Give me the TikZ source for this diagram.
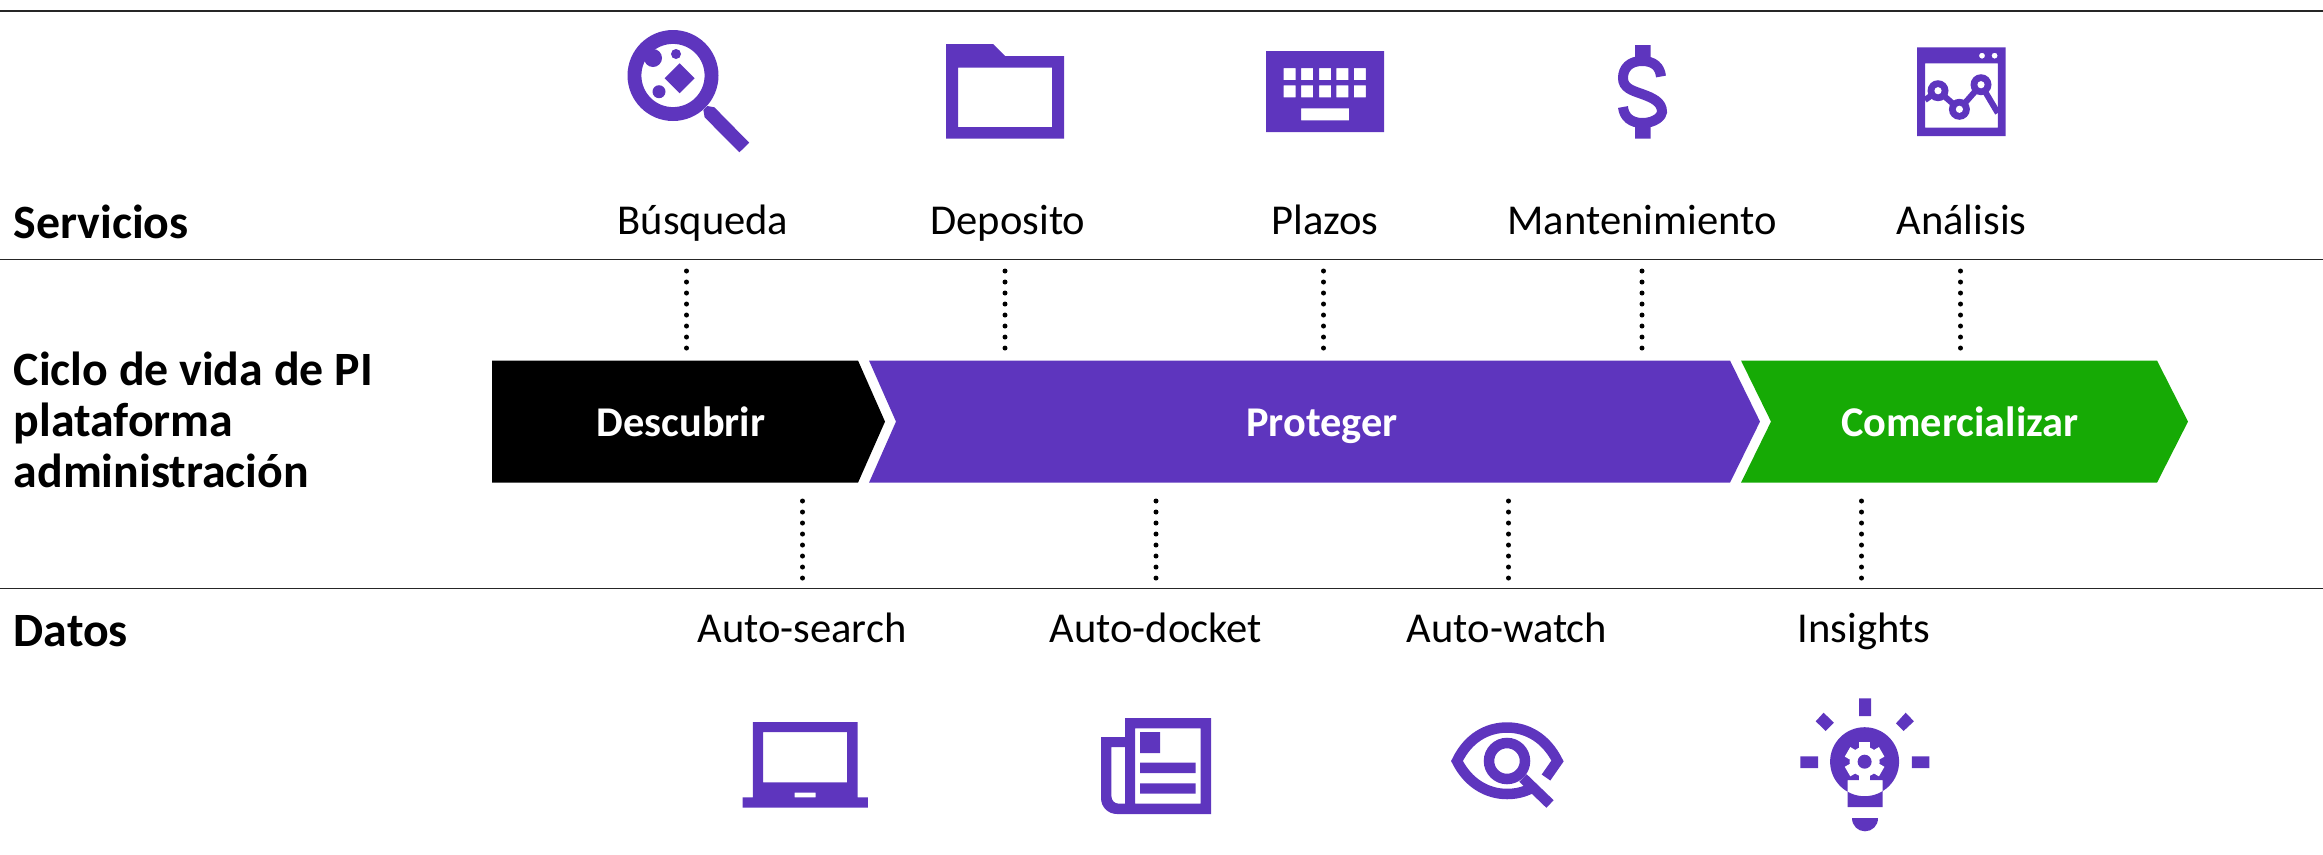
\documentclass[tikz,border=0pt]{standalone}
\usepackage{fontspec}
\setmainfont{Carlito}
\definecolor{morado}{RGB}{94,53,190}
\definecolor{verde}{RGB}{22,170,5}
\tikzset{
  regla/.style={line width=.018cm,black!85},
  puntos/.style={line width=.05cm,line cap=round,dash pattern=on 0pt off .11cm},
  titulo/.style={anchor=base west,inner sep=0,font=\fontsize{13.6}{14.5}\selectfont\bfseries,align=left},
  etiqueta/.style={anchor=base,inner sep=0,font=\fontsize{12.1}{14}\selectfont},
  fase/.style={anchor=base,text=white,inner sep=0,font=\fontsize{12.05}{14}\selectfont\bfseries},
  icono/.style={fill=morado,even odd rule},
  trazo/.style={draw=morado,line width=.105cm}
}
\begin{document}
\begin{tikzpicture}[x=.01cm,y=-.01cm]
    \useasboundingbox (0,0) rectangle (2323,854);
    % rules
    \draw[regla] (0,10.7) -- (2323,10.7);
    \draw[regla] (0,259.5) -- (2323,259.5);
    \draw[regla] (0,588.5) -- (2323,588.5);
    % row titles
    \node[titulo] (servicios) at (13,238.5) {Servicios};
    \node[titulo,anchor=west] (ciclo) at (13,420) {Ciclo de vida de PI\\plataforma\\administración};
    \node[titulo] (datos) at (13,646) {Datos};
    % chevrons
    \fill[black] (492,360.5) -- (858,360.5) -- (885,421.6) -- (858,482.7) -- (492,482.7) -- cycle;
    \fill[morado] (869,360.5) -- (1730,360.5) -- (1760,421.6) -- (1730,482.7) -- (869,482.7) -- (896,421.6) -- cycle;
    \fill[verde] (1741,360.5) -- (2157,360.5) -- (2188,421.6) -- (2157,482.7) -- (1741,482.7) -- (1771,421.6) -- cycle;
    \node[fase] (descubrir) at (681,436) {Descubrir};
    \node[fase] (proteger) at (1322,436) {Proteger};
    \node[fase] (comercializar) at (1960,436) {Comercializar};
    % labels
    \node[etiqueta] (busqueda) at (703,234) {Búsqueda};
    \node[etiqueta] (deposito) at (1008,234) {Deposito};
    \node[etiqueta] (plazos) at (1325,234) {Plazos};
    \node[etiqueta] (mantenimiento) at (1642,234) {Mantenimiento};
    \node[etiqueta] (analisis) at (1961.5,234) {Análisis};
    \node[etiqueta] (autosearch) at (802,642) {Auto-search};
    \node[etiqueta] (autodocket) at (1155.5,642) {Auto-docket};
    \node[etiqueta] (autowatch) at (1507,642) {Auto-watch};
    \node[etiqueta] (insights) at (1864,642) {Insights};
    % dotted connectors
    \coordinate (arriba) at (0,271);
    \coordinate (borde) at (0,352);
    \coordinate (bajo) at (0,501);
    \coordinate (fondo) at (0,581);
    \coordinate (s1) at (686.5,0);
    \coordinate (s2) at (1005,0);
    \coordinate (s3) at (1323.5,0);
    \coordinate (s4) at (1642,0);
    \coordinate (s5) at (1960.5,0);
    \coordinate (d1) at (802.5,0);
    \coordinate (d2) at (1156,0);
    \coordinate (d3) at (1508.5,0);
    \coordinate (d4) at (1861.5,0);
    \draw[puntos] (s1 |- arriba) -- (s1 |- borde);
    \draw[puntos] (s2 |- arriba) -- (s2 |- borde);
    \draw[puntos] (s3 |- arriba) -- (s3 |- borde);
    \draw[puntos] (s4 |- arriba) -- (s4 |- borde);
    \draw[puntos] (s5 |- arriba) -- (s5 |- borde);
    \draw[puntos] (d1 |- bajo) -- (d1 |- fondo);
    \draw[puntos] (d2 |- bajo) -- (d2 |- fondo);
    \draw[puntos] (d3 |- bajo) -- (d3 |- fondo);
    \draw[puntos] (d4 |- bajo) -- (d4 |- fondo);
    % magnifier
    \fill[icono] (673,75.5) circle (45.5) (673,75.5) circle (31.6);
    \fill[morado] (653,58) circle (9) (676,54) circle (5) (659,91.7) circle (6.5);
    \fill[morado] (679.6,63.3) -- (694.6,78.3) -- (679.6,93.3) -- (664.6,78.3) -- cycle;
    \fill[morado] (703.4,110) -- (707.3,106) -- (714.4,107.3) -- (749.2,142.7) -- (739.4,152.3) -- (704.6,117.3) -- cycle;
    % folder
    \fill[icono] (946,44) -- (993,44) -- (1005,56) -- (1064,56) -- (1064,138.7) -- (946,138.7) -- cycle
      (958,67.7) rectangle (1052,127);
    % keyboard
    \fill[icono] (1266,51) rectangle (1384,132)
      (1283.6,68) rectangle ++(12,12) (1301.2,68) rectangle ++(12,12) (1319,68) rectangle ++(12,12) (1336.3,68) rectangle ++(12,12) (1353.8,68) rectangle ++(12,12)
      (1283.6,85.3) rectangle ++(12,12) (1301.2,85.3) rectangle ++(12,12) (1319,85.3) rectangle ++(12,12) (1336.3,85.3) rectangle ++(12,12) (1353.8,85.3) rectangle ++(12,12)
      (1301,108.3) rectangle (1349,120.3);
    % dollar
    \fill[morado] (1635,45) rectangle (1650.6,60) (1635,124) rectangle (1650.6,138.7);
    \draw[morado,line width=.1cm] (1661,76.5) .. controls (1660,67) and (1654,61) .. (1642,61) .. controls (1630,61) and (1623,68) .. (1623,78) .. controls (1623,88) and (1632,90.5) .. (1642,94) .. controls (1653,98) and (1662,102) .. (1662,112) .. controls (1662,116) and (1655,123) .. (1642.5,123) .. controls (1631,123) and (1624,117) .. (1623,107);
    % chart window
    \fill[icono] (1917.2,47.3) rectangle (2005.5,136) (1925,63.3) rectangle (1997.8,127.7)
      (1982,55.7) circle (3) (1994.6,55.7) circle (3);
    \draw[morado,line width=.06cm] (1925,100) -- (1938,90.7) -- (1959.4,109.3) -- (1981,84.7) -- (1997.8,113);
    \fill[morado] (1938,90.7) circle (10.5) (1959.4,109.3) circle (10.5) (1981,84.7) circle (10.5);
    \fill[white] (1938,90.7) circle (3.6) (1959.4,109.3) circle (3.6) (1981,84.7) circle (3.6);
    % laptop
    \fill[icono] (752.9,722) -- (857.5,722) -- (857.5,797.3) -- (867.9,797.3) -- (867.9,807.7) -- (742.5,807.7) -- (742.5,797.3) -- (752.9,797.3) -- cycle
      (763.2,732) rectangle (847.1,782.3) (794.6,792.7) rectangle (815.7,797.3);
    % newspaper
    \fill[icono] (1125,718) -- (1211,718) -- (1211,814) -- (1117,814) .. controls (1108,814) and (1101,807) .. (1101,798) -- (1101,737) -- (1125,737) -- cycle
      (1135,728.3) rectangle (1200.7,803.7)
      (1111.4,747) -- (1125,747) -- (1125,803.7) -- (1119,803.7) .. controls (1114.5,803.7) and (1111.4,800.5) .. (1111.4,796) -- cycle;
    \fill[morado] (1140,732) rectangle (1160,753) (1140,762.7) rectangle (1195.7,773) (1140,783.3) rectangle (1195.7,793.7);
    % eye
    \draw[trazo] (1546,777.5) -- (1557.5,761) .. controls (1546,738) and (1527,727.5) .. (1507,727.5) .. controls (1487,727.5) and (1468,738) .. (1457,761) .. controls (1468,783) and (1487,794) .. (1507,794) .. controls (1515,794) and (1523,792.5) .. (1532,788);
    \draw[white,line width=.08cm] (1524,777) -- (1532,786);
    \draw[trazo] (1507,761) circle (18);
    \draw[trazo] (1523,778) -- (1550,804);
    % bulb
    \fill[morado] (1864.6,761.7) circle (34.5) (1847.5,780) rectangle (1882.5,807);
    \fill[morado] (1852,818) -- (1878,818) .. controls (1878,826) and (1872,831.3) .. (1865,831.3) .. controls (1858,831.3) and (1852,826) .. (1852,818) -- cycle;
    \fill[morado] (1859,698.3) rectangle (1871,716) (1800.4,756.3) rectangle (1818.2,768) (1911.8,756.3) rectangle (1929.3,768);
    \fill[morado] (1823.6,712.7) -- (1833.9,722.7) -- (1825.7,731) -- (1815.7,721.3) -- cycle;
    \fill[morado] (1905.7,712.7) -- (1913.9,721.3) -- (1903.6,731) -- (1896,723.3) -- cycle;
    \begin{scope}[shift={(1864.6,761.7)}]
      \fill[white] (0,0) circle (15);
      \draw[white,line width=.11cm] (90:19.7) -- (-90:19.7);
      \draw[white,line width=.11cm] (30:19.7) -- (210:19.7);
      \draw[white,line width=.11cm] (150:19.7) -- (330:19.7);
      \fill[morado] (0,0) circle (7);
    \end{scope}
\end{tikzpicture}
\end{document}
